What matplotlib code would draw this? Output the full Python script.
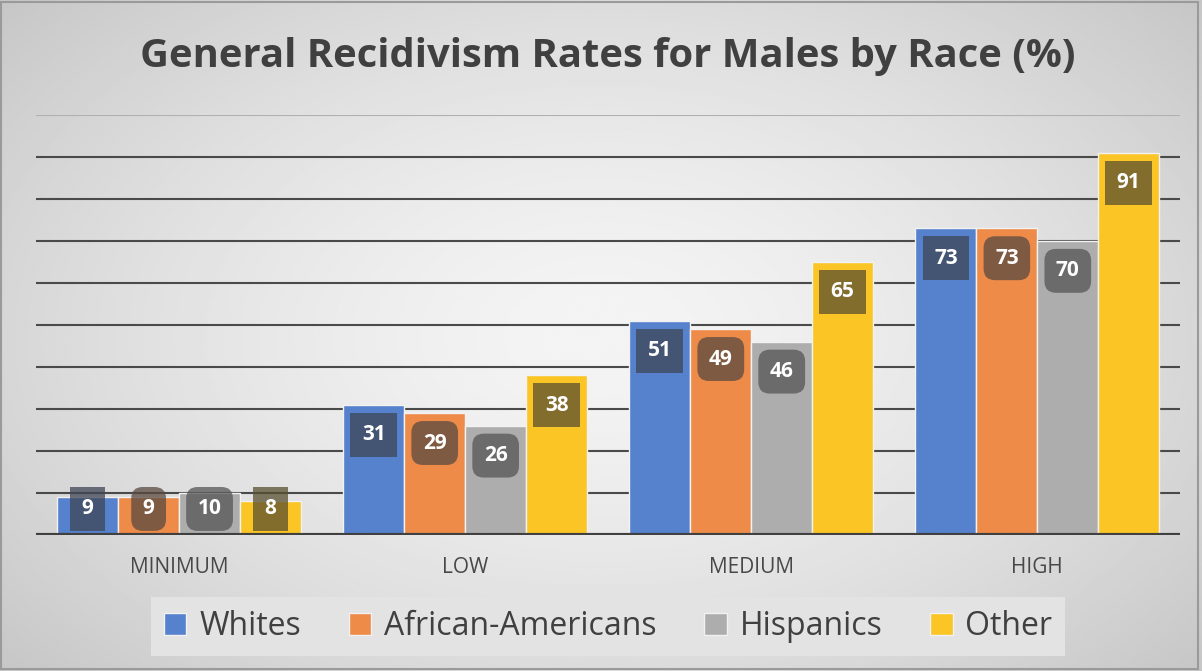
import numpy as np
import matplotlib.pyplot as plt
from matplotlib.patches import Patch

# chart data
categories = ["MINIMUM", "LOW", "MEDIUM", "HIGH"]
series = ["Whites", "African-Americans", "Hispanics", "Other"]
whites = [9, 31, 51, 73]
african_americans = [9, 29, 49, 73]
hispanics = [10, 26, 46, 70]
other = [8, 38, 65, 91]

colors = ["#5681cc", "#ee8b48", "#adadad", "#fbc525"]
box_styles = ["square", "round", "round", "square"]
box_colors = ["#3f4555", "#5a4a40", "#555555", "#5a5030"]

plt.rcParams['font.family'] = ['Open Sans', 'DejaVu Sans']

fig = plt.figure(figsize=(12.02, 6.71), dpi=100)

# radial gray background, light centre, darker edges
bg = fig.add_axes([0, 0, 1, 1], zorder=-10)
yy, xx = np.mgrid[-1:1:300j, -1:1:500j]
r = np.clip(np.sqrt((xx * 0.85) ** 2 + (yy * 0.75) ** 2), 0, 1.2)
shade = 244 - 38 * r ** 1.5
bg.imshow(shade, cmap='gray', vmin=0, vmax=255, aspect='auto', extent=[0, 1, 0, 1])
bg.set_xlim(0, 1)
bg.set_ylim(0, 1)
bg.axis('off')
bg.add_patch(plt.Rectangle((0.001, 0.003), 0.996, 0.994, fill=False,
                           edgecolor='#9a9a9a', lw=1.5))

ax = fig.add_axes([0.030, 0.2027, 0.952, 0.6259])
ax.set_facecolor('none')

data = [whites, african_americans, hispanics, other]
x = np.arange(len(categories))
width = 0.213
for i, vals in enumerate(data):
    pos = x + (i - 1.5) * width
    ax.bar(pos, vals, width, color=colors[i], edgecolor='#f2f2f2', linewidth=1, zorder=3)
    for px, v in zip(pos, vals):
        ly = max(v - 7.1, 6.2)
        ax.text(px, ly, str(v), ha='center', va='center', color='white',
                fontsize=15, fontweight='bold', zorder=5,
                bbox=dict(boxstyle=box_styles[i] + ',pad=0.55', facecolor=box_colors[i],
                          edgecolor='none', alpha=0.75))

ax.set_ylim(0, 100)
ax.set_xlim(-0.5, 3.5)
for g in range(10, 100, 10):
    ax.axhline(g, color='#4a4a4a', lw=1.5, zorder=1)
ax.axhline(100, color='#b0b0b0', lw=1.5, zorder=1)
ax.axhline(0, color='#404040', lw=3, zorder=4)

for s in ax.spines.values():
    s.set_visible(False)
ax.set_yticks([])
ax.set_xticks(x)
ax.set_xticklabels(categories, fontsize=15, color='#484848')
ax.tick_params(axis='x', length=0, pad=16)

fig.text(0.506, 0.916, "General Recidivism Rates for Males by Race (%)", ha='center',
         va='center', fontsize=28.8, fontweight='bold', color='#404040')

handles = [Patch(facecolor=c, edgecolor='#f2f2f2') for c in colors]
leg = fig.legend(handles, series, loc='center', bbox_to_anchor=(0.506, 0.066), ncol=4,
                 fontsize=23, frameon=True, fancybox=False, facecolor='#e3e3e3',
                 edgecolor='none', framealpha=1, handlelength=0.7, handleheight=0.7,
                 handletextpad=0.4, columnspacing=1.5, borderpad=0.4, labelcolor='#404040')

fig.savefig("out.png", dpi=100)
